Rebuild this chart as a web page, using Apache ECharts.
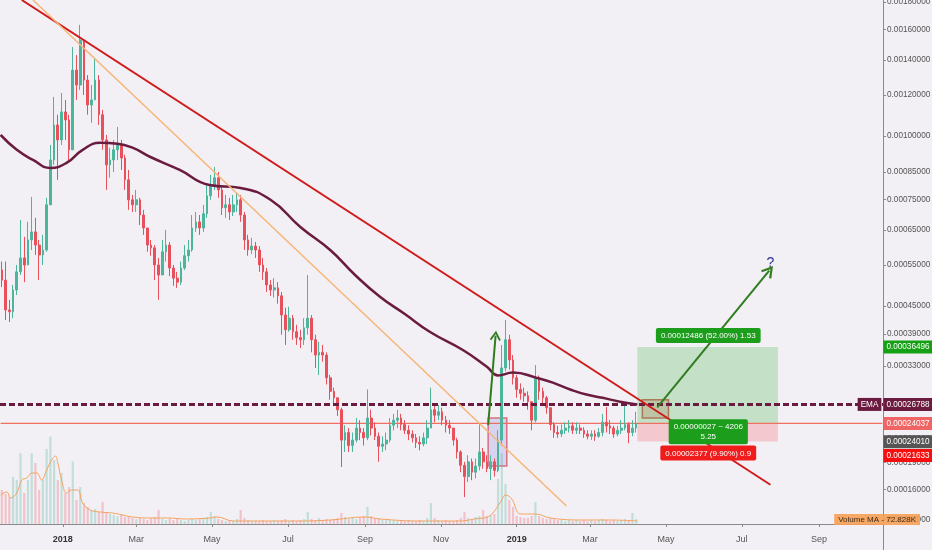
<!DOCTYPE html>
<html>
<head>
<meta charset="utf-8">
<title>Price chart</title>
<script src="https://cdn.jsdelivr.net/npm/echarts@6.0.0/dist/echarts.min.js"></script>
<style>
  html, body { margin: 0; padding: 0; background: #f3f0f5; }
  #chart { width: 932px; height: 550px; }
</style>
</head>
<body>
<div id="chart"></div>
<script>
// prices are kept in micro-BTC (1 = 0.000001), volumes in K
const START_DATE = Date.UTC(2017, 10, 12);
const DAY_COUNT = 710;
const CANDLE_DAYS = 3;
const UNIT = 1e-6;
const LOG_SHIFT = 100; // tradingview style log scale: log(price + shift)
const PRICE_TOP = 1817;
const PRICE_BOTTOM = 125.8;

const priceTicks = [1800, 1600, 1400, 1200, 1000, 850, 750, 650, 550, 450, 390, 330, 270, 220, 190, 160, 130];

const firstOpen = 537;
const closes = [
  511, 441, 437, 487, 532, 569, 550, 620, 644, 605,
  577, 591, 731, 898, 1051, 983, 1114, 1075, 940, 1340,
  1255, 1528, 1283, 1149, 1175, 1283, 1100, 983, 878, 898,
  940, 961, 906, 820, 748, 731, 748, 697, 656, 605,
  597, 550, 524, 586, 605, 542, 516, 506, 542, 575,
  591, 656, 675, 656, 701, 762, 801, 828, 783, 721,
  731, 707, 731, 748, 697, 620, 591, 602, 591, 550,
  532, 499, 487, 492, 473, 430, 399, 423, 395, 383,
  379, 403, 423, 379, 350, 355, 350, 310, 288, 278,
  260, 218, 228, 211, 218, 234, 228, 221, 248, 234,
  223, 210, 213, 218, 238, 245, 248, 239, 231, 226,
  221, 215, 213, 221, 234, 260, 252, 257, 245, 238,
  234, 218, 203, 187, 174, 191, 179, 186, 203, 191,
  183, 191, 181, 218, 327, 379, 341, 310, 291, 285,
  281, 272, 245, 310, 288, 278, 263, 239, 228, 226,
  231, 234, 237, 231, 234, 231, 226, 223, 226, 223,
  228, 242, 237, 234, 226, 231, 234, 239, 228, 234,
  240.37
];
const highs = [
  559, 559, 464, 499, 550, 681, 629, 675, 758, 688,
  620, 635, 755, 961, 1191, 1100, 1212, 1175, 1100, 1482,
  1431, 1632, 1528, 1311, 1255, 1412, 1311, 1124, 1005, 949,
  983, 1042, 983, 919, 858, 765, 783, 755, 714, 656,
  620, 605, 569, 620, 650, 614, 550, 532, 559, 605,
  620, 697, 707, 697, 731, 801, 839, 870, 850, 801,
  765, 755, 765, 772, 765, 707, 635, 626, 614, 602,
  569, 542, 511, 516, 506, 482, 446, 448, 430, 409,
  399, 423, 524, 430, 389, 375, 369, 355, 315, 294,
  278, 263, 238, 234, 228, 248, 245, 234, 291, 260,
  242, 228, 223, 228, 248, 254, 260, 254, 245, 238,
  231, 226, 223, 228, 245, 294, 267, 267, 263, 251,
  245, 234, 221, 205, 191, 199, 195, 195, 241, 208,
  199, 199, 195, 231, 369, 419, 389, 350, 315, 301,
  294, 288, 269, 332, 314, 294, 281, 263, 242, 237,
  239, 242, 245, 242, 242, 239, 235, 231, 231, 231,
  234, 254, 264, 245, 237, 237, 245, 270, 242, 245,
  257
];
const lows = [
  494, 419, 415, 423, 475, 524, 506, 559, 591, 577,
  511, 550, 586, 731, 878, 820, 961, 983, 890, 940,
  1175, 1228, 1201, 1100, 1061, 1175, 1051, 940, 783, 828,
  850, 898, 858, 783, 714, 707, 707, 665, 635, 586,
  575, 511, 464, 524, 559, 521, 497, 492, 499, 537,
  559, 586, 644, 635, 644, 688, 748, 783, 755, 697,
  688, 681, 694, 707, 675, 591, 575, 580, 569, 532,
  511, 482, 473, 469, 455, 389, 369, 395, 379, 369,
  363, 369, 389, 355, 327, 315, 338, 299, 275, 266,
  251, 185, 203, 203, 203, 215, 218, 211, 218, 224,
  218, 191, 203, 205, 215, 231, 234, 231, 226, 218,
  215, 208, 205, 210, 213, 234, 242, 245, 238, 228,
  226, 211, 195, 179, 152, 168, 170, 172, 181, 183,
  179, 170, 174, 179, 211, 321, 324, 299, 278, 275,
  272, 260, 231, 242, 275, 269, 254, 231, 221, 221,
  222, 226, 228, 226, 226, 226, 221, 219, 218, 217,
  221, 223, 228, 226, 221, 223, 226, 231, 214, 223,
  228
];
const volumes = [
  816, 720, 648, 1128, 1056, 1700, 744, 1056, 1700, 1464,
  816, 1056, 1800, 2100, 1536, 1056, 1224, 744, 888, 1500,
  576, 888, 504, 408, 336, 360, 288, 528, 288, 240,
  216, 192, 240, 168, 192, 144, 120, 144, 120, 96,
  144, 168, 336, 120, 96, 120, 96, 120, 96, 72,
  96, 120, 96, 120, 144, 168, 288, 192, 120, 96,
  72, 96, 72, 120, 336, 144, 96, 72, 72, 72,
  96, 72, 72, 96, 72, 96, 120, 72, 96, 72,
  96, 120, 288, 120, 96, 144, 96, 120, 96, 120,
  144, 264, 168, 120, 144, 120, 168, 192, 408, 192,
  144, 120, 96, 120, 96, 96, 72, 96, 72, 96,
  72, 72, 96, 72, 144, 504, 144, 96, 72, 96,
  72, 72, 96, 144, 288, 144, 120, 168, 192, 336,
  192, 216, 240, 1080, 1700, 960, 576, 408, 192, 168,
  144, 144, 192, 528, 192, 144, 120, 144, 120, 96,
  96, 72, 96, 72, 96, 72, 96, 72, 96, 72,
  96, 120, 96, 72, 96, 72, 96, 120, 96, 264,
  120
];

// indicator lines (day index from START_DATE)
const emaDays = [0, 13, 26, 40, 53, 66, 80, 94, 106, 120, 144, 168, 193, 217, 241, 265, 285, 305, 325, 345, 372, 391, 400, 412, 431, 444, 458, 471, 484, 498, 512];
const emaValues = [1005, 940, 898, 866, 886, 940, 970, 966, 949, 911, 858, 801, 790, 748, 659, 591, 524, 471, 432, 395, 359, 329, 314, 319, 310, 302, 291, 283, 278, 272, 267.88];
const volMaDays = [0, 5, 8, 13, 17, 21, 25, 29, 33, 37, 41, 44, 46, 49, 53, 57, 62, 66, 72, 80, 90, 98, 106, 120, 134, 150, 168, 174, 187, 201, 241, 265, 293, 305, 337, 369, 381, 393, 402, 406, 411, 418, 430, 442, 466, 490, 512];
const volMaValues = [696, 768, 624, 744, 1056, 1104, 1224, 1224, 1056, 1296, 1536, 1632, 1464, 1056, 744, 816, 816, 504, 336, 288, 264, 216, 168, 144, 144, 120, 144, 168, 72, 72, 72, 96, 168, 120, 72, 72, 120, 192, 528, 696, 600, 240, 240, 144, 96, 96, 72.828];

// drawings: [day index, price]
const redTrend = [[17, 1817], [619, 165]];
const orangeTrend = [[26, 1817], [455, 143]];
const pumpArrow = [[392, 238], [398, 387]];
const targetArrow = [[528, 263.5], [618, 535]];
const questionMark = [619, 556];
const pumpBox = [[392, 248], [407, 186]];
const entryBox = [[516, 275], [537, 248]];

// long position tool
const posStart = 512;
const posEnd = 625;
const posEntry = 240.10;
const posTarget = 364.96;
const posStop = 216.33;
const posQty = 4206;

const MONTHS = ['Jan', 'Feb', 'Mar', 'Apr', 'May', 'Jun', 'Jul', 'Aug', 'Sep', 'Oct', 'Nov', 'Dec'];
const FONT = '"Liberation Sans", Arial, sans-serif';
const upColor = '#4cb59c';
const downColor = '#e8505c';
const emaColor = '#6a1b3f';
const priceLineColor = '#f0705f';

function scaleY(p) {
  return Math.log(p + LOG_SHIFT);
}
function unscaleY(v) {
  return Math.exp(v) - LOG_SHIFT;
}
function fmtPrice(p) {
  return (p * UNIT).toFixed(8);
}

let days = [];
for (var i = 0; i < DAY_COUNT; i++) {
  days.push(new Date(START_DATE + i * 86400000).toISOString().slice(0, 10));
}

let candleData = [];
let volumeData = [];
let open = firstOpen;
for (var k = 0; k < closes.length; k++) {
  let close = closes[k];
  let high = Math.max(highs[k], open, close);
  let low = Math.min(lows[k], open, close);
  let x = k * CANDLE_DAYS + 1;
  candleData.push([x, scaleY(open), scaleY(close), scaleY(low), scaleY(high)]);
  volumeData.push({
    value: [x, volumes[k]],
    itemStyle: { color: close >= open ? 'rgba(76,181,156,0.3)' : 'rgba(232,80,92,0.28)' }
  });
  open = close;
}
const lastClose = closes[closes.length - 1];
const lastEma = emaValues[emaValues.length - 1];
const lastVolMa = volMaValues[volMaValues.length - 1];

function pt(d) {
  return { coord: [days[d[0]], scaleY(d[1])] };
}

const chevron = 'path://M5,0L10,8.5L8.6,9.6L5,3.2L1.4,9.6L0,8.5Z';

function showDay(index, value) {
  let parts = value.split('-');
  return parts[2] === '01' && (+parts[1]) % 2 === 1;
}

function tag(price, text, bg, opts) {
  opts = opts || {};
  return {
    coord: [days[DAY_COUNT - 1], scaleY(price)],
    label: {
      show: true,
      position: opts.position || 'right',
      distance: 1,
      offset: opts.offset || [0, 0],
      formatter: text,
      color: '#fff',
      backgroundColor: bg,
      padding: [3, 3, 2, 3],
      fontSize: 8.2,
      fontFamily: FONT
    }
  };
}

function boxLabel(price, text, bg, position, offset) {
  return {
    coord: [days[Math.round((posStart + posEnd) / 2)], scaleY(price)],
    label: {
      show: true,
      position: position,
      distance: 4,
      offset: offset || [0, 0],
      formatter: text,
      color: '#fff',
      backgroundColor: bg,
      borderRadius: 2,
      padding: [3, 5, 2, 5],
      fontSize: 8,
      lineHeight: 10,
      fontFamily: FONT,
      align: 'center'
    }
  };
}

const profit = posTarget - posEntry;
const loss = posEntry - posStop;

let chart = echarts.init(document.getElementById('chart'));
chart.setOption({
  backgroundColor: '#f3f0f5',
  animation: false,
  grid: [
    { left: 0, right: 49, top: 0, bottom: 26, outerBoundsMode: 'none' },
    { left: 0, right: 49, top: 399, bottom: 26, outerBoundsMode: 'none' }
  ],
  xAxis: [
    {
      type: 'category',
      data: days,
      gridIndex: 0,
      axisLine: { lineStyle: { color: '#8a8a8a' } },
      axisTick: { show: true, interval: showDay, alignWithLabel: true, length: 3, lineStyle: { color: '#8a8a8a' } },
      axisLabel: {
        interval: showDay,
        margin: 11,
        color: '#555',
        fontSize: 9,
        fontFamily: FONT,
        formatter: function (value) {
          let parts = value.split('-');
          if (parts[1] === '01') {
            return '{yr|' + parts[0] + '}';
          }
          return MONTHS[+parts[1] - 1];
        },
        rich: { yr: { fontWeight: 'bold', color: '#333', fontSize: 9, fontFamily: FONT } }
      },
      splitLine: { show: false }
    },
    { type: 'category', data: days, gridIndex: 1, show: false }
  ],
  yAxis: [
    {
      type: 'value',
      gridIndex: 0,
      position: 'right',
      min: scaleY(PRICE_BOTTOM),
      max: scaleY(PRICE_TOP),
      scale: true,
      splitLine: { show: false },
      axisLine: { show: true, lineStyle: { color: '#8a8a8a' } },
      axisTick: { show: true, length: 3, customValues: priceTicks.map(scaleY), lineStyle: { color: '#8a8a8a' } },
      axisLabel: {
        customValues: priceTicks.map(scaleY),
        margin: 4,
        color: '#555',
        fontSize: 8.2,
        fontFamily: FONT,
        formatter: function (v) {
          return fmtPrice(unscaleY(v));
        }
      }
    },
    { type: 'value', gridIndex: 1, min: 0, max: 3000, show: false }
  ],
  graphic: [
    { type: 'line', z: 50, shape: { x1: 883.5, y1: 524, x2: 883.5, y2: 550 }, style: { stroke: '#8a8a8a', lineWidth: 1 } },
    {
      type: 'text', z: 100, right: 12, bottom: 25,
      style: {
        text: 'Volume MA - ' + lastVolMa.toFixed(3) + 'K',
        fill: '#3d2a18',
        font: '8px ' + FONT,
        backgroundColor: 'rgba(247,160,85,0.9)',
        padding: [2, 4, 1, 4]
      }
    }
  ],
  series: [
    {
      name: 'Volume',
      type: 'bar',
      xAxisIndex: 1,
      yAxisIndex: 1,
      barWidth: 2.2,
      z: 1,
      data: volumeData
    },
    {
      name: 'Volume MA',
      type: 'line',
      xAxisIndex: 1,
      yAxisIndex: 1,
      smooth: 0.4,
      symbol: 'none',
      z: 2,
      lineStyle: { color: '#f5a25e', width: 1 },
      data: volMaDays.map(function (d, i) { return [d, volMaValues[i]]; })
    },
    {
      name: 'Last price',
      type: 'line',
      xAxisIndex: 0,
      yAxisIndex: 0,
      symbol: 'none',
      z: 2,
      color: priceLineColor,
      lineStyle: { color: priceLineColor, width: 1.3, opacity: 1 },
      data: [[0, scaleY(lastClose)], [DAY_COUNT - 1, scaleY(lastClose)]]
    },
    {
      name: 'Price',
      type: 'candlestick',
      xAxisIndex: 0,
      yAxisIndex: 0,
      encode: { x: 0, y: [1, 2, 3, 4] },
      barWidth: 2.2,
      z: 3,
      itemStyle: {
        color: upColor,
        color0: downColor,
        borderColor: upColor,
        borderColor0: downColor,
        borderWidth: 1
      },
      data: candleData,
      markArea: {
        silent: true,
        data: [
          [
            { coord: [days[posStart], scaleY(posEntry)], itemStyle: { color: 'rgba(90,190,90,0.30)' } },
            { coord: [days[posEnd], scaleY(posTarget)] }
          ],
          [
            { coord: [days[posStart], scaleY(posStop)], itemStyle: { color: 'rgba(245,110,120,0.30)' } },
            { coord: [days[posEnd], scaleY(posEntry)] }
          ],
          [
            Object.assign(pt(pumpBox[0]), { itemStyle: { color: 'rgba(160,160,230,0.35)', borderColor: 'rgba(215,90,110,0.85)', borderWidth: 1.5 } }),
            pt(pumpBox[1])
          ],
          [
            Object.assign(pt(entryBox[0]), { itemStyle: { color: 'rgba(170,110,70,0.25)', borderColor: 'rgba(165,105,70,0.85)', borderWidth: 1.5 } }),
            pt(entryBox[1])
          ]
        ]
      },
      markLine: {
        silent: true,
        symbol: ['none', 'none'],
        label: { show: false },
        data: [
          { yAxis: scaleY(lastEma), lineStyle: { color: emaColor, width: 3, type: [6, 3] } },
          [
            Object.assign(pt(redTrend[0]), { lineStyle: { color: '#cf1b1b', width: 2, type: 'solid' } }),
            pt(redTrend[1])
          ],
          [
            Object.assign(pt(orangeTrend[0]), { lineStyle: { color: '#f6b678', width: 1.5, type: 'solid' } }),
            pt(orangeTrend[1])
          ],
          [
            Object.assign(pt(pumpArrow[0]), { lineStyle: { color: '#2f7d1f', width: 2, type: 'solid' } }),
            Object.assign(pt(pumpArrow[1]), { symbol: chevron, symbolSize: [11, 10] })
          ],
          [
            Object.assign(pt(targetArrow[0]), { lineStyle: { color: '#2f7d1f', width: 2, type: 'solid' } }),
            Object.assign(pt(targetArrow[1]), { symbol: chevron, symbolSize: [13, 12] })
          ]
        ]
      },
      markPoint: {
        silent: true,
        symbol: 'circle',
        symbolSize: 0,
        data: [
          Object.assign(pt(questionMark), {
            label: { show: true, position: 'inside', formatter: '?', color: '#2b3190', fontSize: 14, fontFamily: FONT }
          }),
          boxLabel(posTarget, fmtPrice(profit) + ' (' + (profit / posEntry * 100).toFixed(2) + '%) 1.53', '#1c9e1c', 'top'),
          boxLabel(posEntry, '0.00000027 ~ ' + posQty + '\n' + (profit / loss).toFixed(2), '#1c9e1c', 'inside', [0, 8]),
          boxLabel(posStop, fmtPrice(loss) + ' (' + (loss / posEntry * 100).toFixed(2) + '%) 0.9', '#f01c1c', 'bottom'),
          tag(posTarget, fmtPrice(posTarget), '#15a015'),
          tag(lastEma, fmtPrice(lastEma), emaColor),
          tag(lastEma, 'EMA', emaColor, { position: 'left' }),
          tag(lastClose, fmtPrice(lastClose), '#ef6464'),
          tag(posEntry, fmtPrice(posEntry), '#555555', { offset: [0, 18] }),
          tag(posStop, fmtPrice(posStop), '#f70f0f', { offset: [0, 14] })
        ]
      }
    },
    {
      name: 'EMA',
      type: 'line',
      xAxisIndex: 0,
      yAxisIndex: 0,
      smooth: 0.5,
      symbol: 'none',
      z: 4,
      lineStyle: { color: emaColor, width: 2.5 },
      data: emaDays.map(function (d, i) { return [d, scaleY(emaValues[i])]; })
    }
  ]
});
</script>
</body>
</html>
